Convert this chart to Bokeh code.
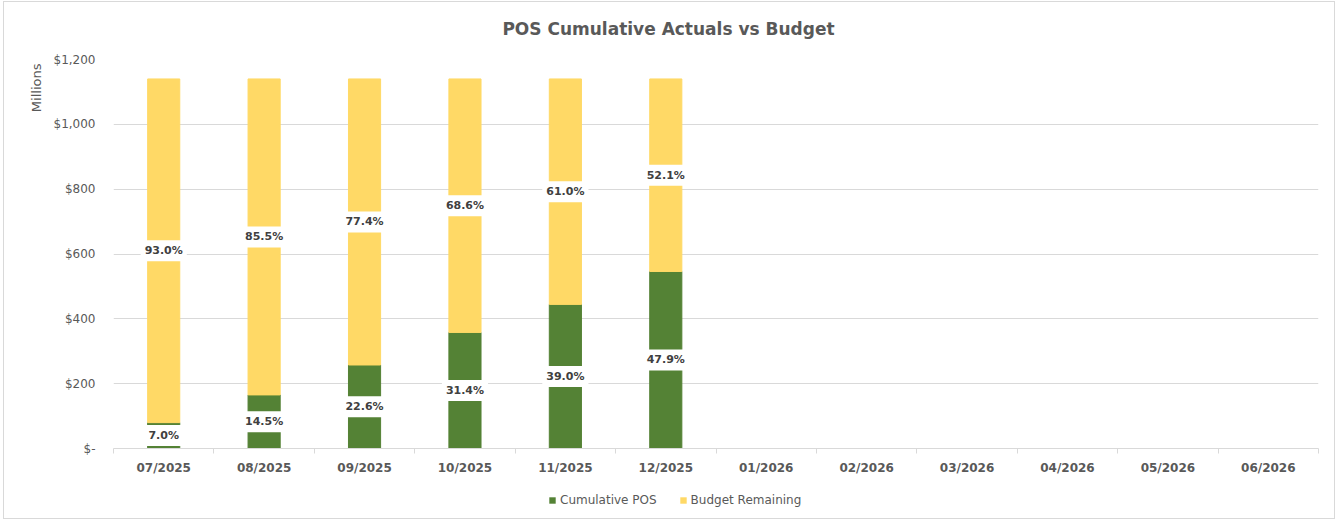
from bokeh.plotting import figure
from bokeh.layouts import column
from bokeh.core.properties import value
from bokeh.models import (ColumnDataSource, LabelSet, Legend, LegendItem,
                          FixedTicker, Range1d, Title, Label)
from bokeh.embed import file_html
from bokeh.resources import INLINE

months = ["07/2025", "08/2025", "09/2025", "10/2025", "11/2025", "12/2025",
          "01/2026", "02/2026", "03/2026", "04/2026", "05/2026", "06/2026"]
cumulative_pos = [79.8, 165.3, 257.6, 358.0, 444.6, 546.1]
budget_remaining = [1060.2, 974.7, 882.4, 782.0, 695.4, 593.9]
pos_pct_labels = ["7.0%", "14.5%", "22.6%", "31.4%", "39.0%", "47.9%"]
rem_pct_labels = ["93.0%", "85.5%", "77.4%", "68.6%", "61.0%", "52.1%"]
y_ticks = [0, 200, 400, 600, 800, 1000, 1200]
y_tick_labels = ["$-", "$200", "$400", "$600", "$800", "$1,000", "$1,200"]
series_names = ["Cumulative POS", "Budget Remaining"]
chart_title = "POS Cumulative Actuals vs Budget"

GREEN = "#548235"
YELLOW = "#FFD966"
GRAY = "#595959"
FONT = "DejaVu Sans"

n = len(cumulative_pos)
centers = [i + 0.5 for i in range(len(months))]
src = ColumnDataSource(dict(
    x=centers[:n],
    pos=cumulative_pos,
    rem=budget_remaining,
    pos_mid=[v / 2 for v in cumulative_pos],
    rem_mid=[a + b / 2 for a, b in zip(cumulative_pos, budget_remaining)],
    pos_lbl=pos_pct_labels,
    rem_lbl=rem_pct_labels,
))


def strip(height):
    f = figure(width=1330, height=height, x_range=Range1d(100, 101),
               y_range=Range1d(5000, 5001), output_backend="svg",
               toolbar_location=None, min_border=0,
               x_axis_location=None, y_axis_location=None)
    f.grid.visible = False
    f.outline_line_color = None
    f.border_fill_color = "white"
    f.background_fill_color = "white"
    return f


# title strip
top = strip(47)
top.add_layout(Label(x=555, y=21, x_units="screen", y_units="screen",
                     text=chart_title, text_align="center",
                     text_baseline="middle", text_font=FONT,
                     text_font_size="17px", text_font_style="bold",
                     text_color=GRAY))

p = figure(width=1330, height=433, x_range=Range1d(0, len(months)),
           y_range=Range1d(0, 1200), output_backend="svg",
           toolbar_location=None, min_border_left=109, min_border_right=16,
           min_border_top=10, min_border_bottom=34)
p.outline_line_color = None
p.background_fill_color = "white"
p.border_fill_color = "white"

rs = p.vbar_stack(["pos", "rem"], x="x", width=0.32, color=[GREEN, YELLOW],
                  source=src)

p.xgrid.visible = False
p.ygrid.grid_line_color = "#d9d9d9"
p.ygrid.grid_line_width = 1

p.yaxis.ticker = FixedTicker(ticks=y_ticks)
p.yaxis.major_label_overrides = dict(zip(y_ticks, y_tick_labels))
p.yaxis.axis_line_color = None
p.yaxis.major_tick_line_color = None
p.yaxis.minor_tick_line_color = None
p.yaxis.major_label_standoff = 12
p.yaxis.major_label_text_font = FONT
p.yaxis.major_label_text_font_size = "12px"
p.yaxis.major_label_text_color = GRAY

p.xaxis.ticker = FixedTicker(ticks=centers,
                             minor_ticks=list(range(len(months) + 1)))
p.xaxis.major_label_overrides = dict(zip(centers, months))
p.xaxis.axis_line_color = "#d9d9d9"
p.xaxis.axis_line_width = 1
p.xaxis.major_tick_line_color = None
p.xaxis.minor_tick_line_color = "#d9d9d9"
p.xaxis.minor_tick_in = 0
p.xaxis.minor_tick_out = 5
p.xaxis.major_label_standoff = 6
p.xaxis.major_label_text_font = FONT
p.xaxis.major_label_text_font_size = "12px"
p.xaxis.major_label_text_font_style = "bold"
p.xaxis.major_label_text_color = GRAY

common = dict(source=src, text_align="center", text_baseline="middle",
              text_font=value(FONT), text_font_style="bold",
              text_font_size="11px", text_color="#404040",
              background_fill_color="white", border_line_color="white",
              border_line_width=8, border_line_join="miter")
p.add_layout(LabelSet(x="x", y="pos_mid", text="pos_lbl", **common))
p.add_layout(LabelSet(x="x", y="rem_mid", text="rem_lbl", **common))

p.add_layout(Title(text="Millions", align="right", offset=4, standoff=14,
                   text_font=FONT, text_font_size="13px",
                   text_font_style="normal", text_color=GRAY), "left")

# legend strip below the chart (its series lie outside its view range)
lg = strip(36)
g1 = lg.vbar(x="x", top="pos", width=0.32, fill_color=GREEN,
             line_color=None, source=src)
g2 = lg.vbar(x="x", top="rem", width=0.32, fill_color=YELLOW,
             line_color=None, source=src)
legend = Legend(items=[LegendItem(label=series_names[0], renderers=[g1]),
                       LegendItem(label=series_names[1], renderers=[g2])],
                orientation="horizontal", location=(435, 11),
                glyph_width=8, glyph_height=8, label_standoff=4, spacing=22,
                label_text_font=FONT, label_text_font_size="12px",
                label_text_color=GRAY, border_line_color=None,
                background_fill_alpha=0, padding=0, margin=0)
lg.add_layout(legend, "center")

layout = column(top, p, lg, spacing=0,
                styles={"border": "1px solid #d9d9d9",
                        "margin": "1px 0 0 3px"})

open("out.html", "w").write(file_html(layout, INLINE))
